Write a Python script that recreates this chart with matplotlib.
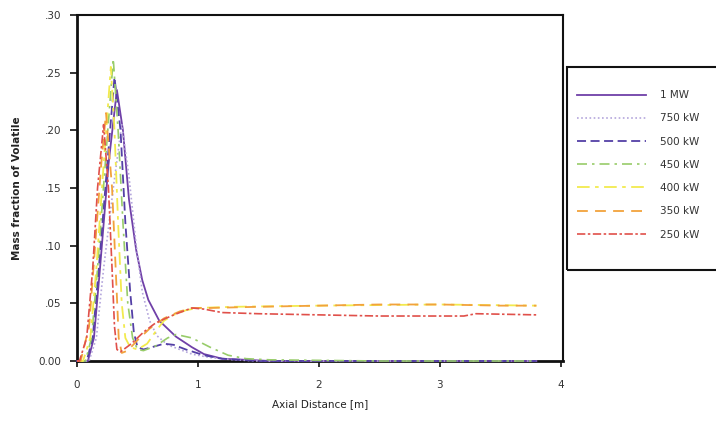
import matplotlib
matplotlib.use("Agg")
import matplotlib.pyplot as plt
from matplotlib.patches import Rectangle

plt.rcParams['font.family'] = ['DejaVu Sans']

# Axial profiles of volatile mass fraction for each furnace load
x_1mw = [0, 0.09, 0.14, 0.19, 0.26, 0.33, 0.38, 0.43, 0.49, 0.54, 0.59, 0.68, 0.82, 0.95, 1.05, 1.2, 1.4, 1.6, 2.5, 3.8]
y_1mw = [0, 0, 0.02, 0.08, 0.17, 0.235, 0.20, 0.14, 0.096, 0.07, 0.053, 0.035, 0.021, 0.012, 0.006, 0.002, 0.001, 0, 0, 0]

x_750 = [0, 0.10, 0.16, 0.22, 0.30, 0.37, 0.43, 0.49, 0.54, 0.60, 0.66, 0.75, 0.85, 0.95, 1.1, 1.3, 1.5, 2.5, 3.8]
y_750 = [0, 0, 0.02, 0.08, 0.15, 0.205, 0.16, 0.10, 0.06, 0.035, 0.022, 0.014, 0.010, 0.006, 0.003, 0.001, 0, 0, 0]

x_500 = [0, 0.08, 0.13, 0.18, 0.25, 0.31, 0.36, 0.40, 0.44, 0.47, 0.50, 0.55, 0.62, 0.72, 0.80, 0.90, 1.05, 1.2, 1.5, 2.5, 3.8]
y_500 = [0, 0, 0.02, 0.08, 0.17, 0.246, 0.20, 0.12, 0.06, 0.025, 0.012, 0.010, 0.012, 0.015, 0.014, 0.010, 0.005, 0.002, 0, 0, 0]

x_450 = [0, 0.07, 0.12, 0.17, 0.24, 0.30, 0.34, 0.38, 0.42, 0.46, 0.50, 0.55, 0.65, 0.75, 0.82, 0.95, 1.1, 1.25, 1.4, 1.6, 2.5, 3.8]
y_450 = [0, 0, 0.02, 0.08, 0.18, 0.262, 0.20, 0.12, 0.05, 0.02, 0.010, 0.009, 0.013, 0.020, 0.023, 0.020, 0.012, 0.005, 0.002, 0.001, 0, 0]

x_400 = [0, 0.05, 0.11, 0.16, 0.22, 0.28, 0.31, 0.34, 0.37, 0.40, 0.44, 0.50, 0.58, 0.66, 0.72, 0.80, 0.90, 1.0, 1.3, 2.0, 3.0, 3.8]
y_400 = [0, 0, 0.02, 0.08, 0.17, 0.255, 0.20, 0.12, 0.05, 0.02, 0.012, 0.010, 0.015, 0.027, 0.035, 0.040, 0.044, 0.046, 0.047, 0.048, 0.049, 0.048]

x_350 = [0, 0.03, 0.10, 0.15, 0.20, 0.24, 0.29, 0.32, 0.345, 0.37, 0.42, 0.50, 0.60, 0.72, 0.85, 0.96, 1.1, 1.5, 2.0, 2.5, 3.0, 3.5, 3.8]
y_350 = [0, 0, 0.03, 0.10, 0.17, 0.215, 0.15, 0.08, 0.02, 0.007, 0.009, 0.018, 0.028, 0.037, 0.043, 0.046, 0.046, 0.047, 0.048, 0.049, 0.049, 0.048, 0.048]

x_250 = [0, 0.02, 0.08, 0.13, 0.17, 0.22, 0.26, 0.29, 0.31, 0.33, 0.36, 0.45, 0.55, 0.65, 0.80, 0.95, 1.05, 1.2, 1.5, 2.0, 2.5, 3.2, 3.3, 3.8]
y_250 = [0, 0, 0.02, 0.08, 0.15, 0.205, 0.15, 0.08, 0.03, 0.010, 0.008, 0.015, 0.025, 0.033, 0.040, 0.046, 0.045, 0.042, 0.041, 0.040, 0.039, 0.039, 0.041, 0.040]

labels = ["1 MW", "750 kW", "500 kW", "450 kW", "400 kW", "350 kW", "250 kW"]
x_ticks = [0, 1, 2, 3, 4]
y_ticks = [0.00, 0.05, 0.10, 0.15, 0.20, 0.25, 0.30]
y_tick_labels = ["0.00", ".05", ".10", ".15", ".20", ".25", ".30"]

series = [
    (x_1mw, y_1mw, dict(color="#7040a8", ls="-", lw=1.3)),
    (x_750, y_750, dict(color="#b4a6dc", ls=(0, (1, 1.5)), lw=1.2)),
    (x_500, y_500, dict(color="#5440a6", ls=(0, (5, 2.5)), lw=1.3)),
    (x_450, y_450, dict(color="#98cc6a", ls=(0, (6, 3, 1.5, 3)), lw=1.2)),
    (x_400, y_400, dict(color="#f2ea4e", ls=(0, (7, 3, 2, 3)), lw=1.3)),
    (x_350, y_350, dict(color="#f2a23c", ls=(0, (6, 4)), lw=1.3)),
    (x_250, y_250, dict(color="#e0504a", ls=(0, (5, 1.5, 1.5, 1.5)), lw=1.2)),
]

fig = plt.figure(figsize=(7.16, 4.34), dpi=100)
ax = fig.add_axes([77 / 716, (434 - 361) / 434, 486 / 716, 346 / 434])

handles = []
for (xs, ys, st), lab in zip(series, labels):
    h, = ax.plot(xs, ys, label=lab, zorder=3, clip_on=False, **st)
    handles.append(h)

ax.set_xlim(0, 4.02)
ax.set_ylim(0, 0.30)
ax.set_xticks(x_ticks)
ax.set_xticklabels([str(t) for t in x_ticks])
ax.set_yticks(y_ticks)
ax.set_yticklabels(y_tick_labels)

for side in ["left", "bottom"]:
    ax.spines[side].set_linewidth(2.0)
for side in ["top", "right"]:
    ax.spines[side].set_linewidth(1.5)
for s in ax.spines.values():
    s.set_color("#111111")

ax.tick_params(axis="x", direction="out", length=4, width=1.2, pad=10,
               labelsize=7.5, colors="#111111", labelcolor="#333333")
ax.tick_params(axis="y", direction="out", length=5, width=1.2, pad=6,
               labelsize=7.5, colors="#111111", labelcolor="#333333")

ax.set_xlabel("Axial Distance [m]", fontsize=7.5, color="#222222", labelpad=6)
ax.set_ylabel("Mass fraction of Volatile", fontsize=7.5, color="#222222",
              fontweight="bold", labelpad=12)

# Legend box running off the right edge of the figure
frame = Rectangle((567 / 716, (434 - 270) / 434), 0.3, 203 / 434,
                  transform=fig.transFigure, fill=False, ec="#111111",
                  lw=1.5, clip_on=False)
fig.patches.append(frame)

leg = fig.legend(handles, labels, loc="upper left",
                 bbox_to_anchor=(572 / 716, 1 - 85 / 434),
                 frameon=False, fontsize=7.5, handlelength=6.6,
                 handletextpad=1.3, labelspacing=1.27, borderpad=0)
for t in leg.get_texts():
    t.set_color("#333333")

fig.savefig("out.png", dpi=100)
